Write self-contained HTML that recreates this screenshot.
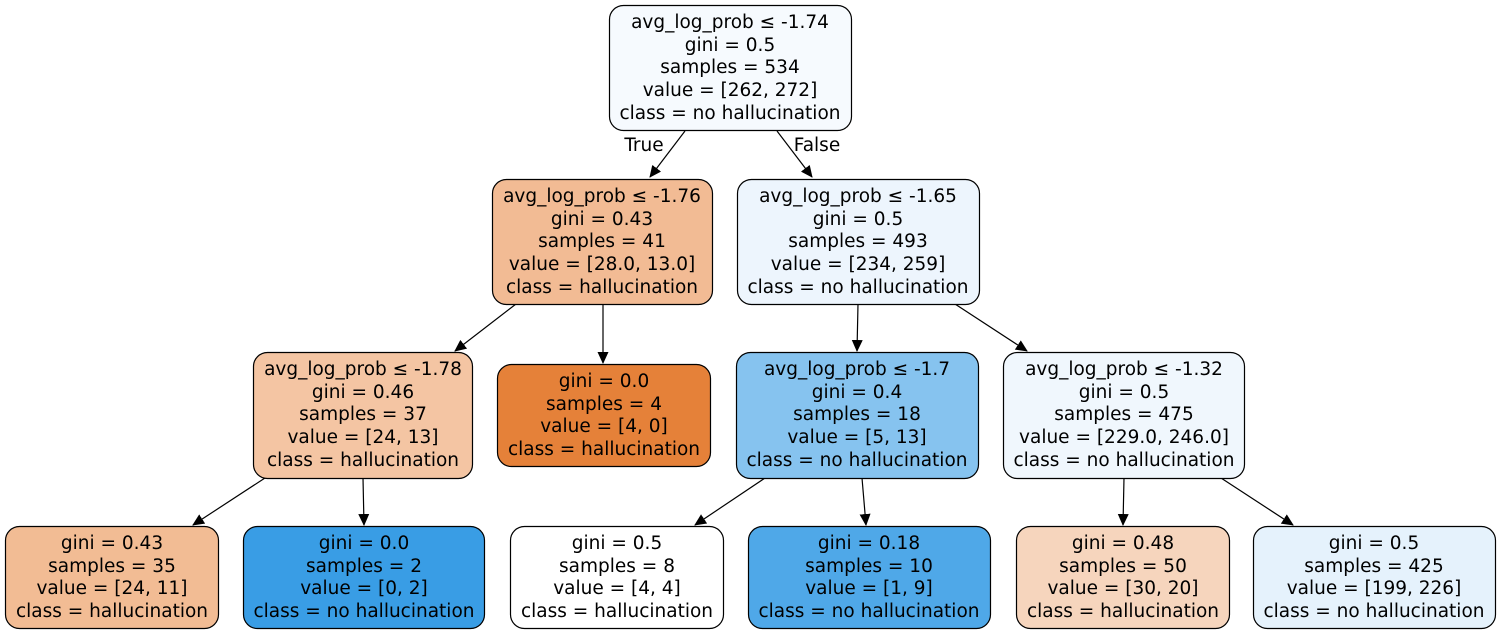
<!DOCTYPE html>
<html><head><meta charset="utf-8"><style>
html,body{margin:0;padding:0;background:#fff;}
svg text{font-family:"DejaVu Sans","Liberation Sans",sans-serif;font-size:18.5px;fill:#000;text-anchor:middle;}
</style></head><body>
<svg width="1501" height="634" viewBox="0 0 1501 634" xmlns="http://www.w3.org/2000/svg">
<defs><marker id="a" markerWidth="12" markerHeight="12" refX="11" refY="5.5" orient="auto" markerUnits="userSpaceOnUse"><path d="M0,0 L12,5.5 L0,11 z" fill="#000"/></marker></defs>
<g stroke="#000" stroke-width="1.2" fill="none">
<line x1="685" y1="131" x2="650" y2="177" marker-end="url(#a)"/>
<line x1="777" y1="131" x2="812" y2="177" marker-end="url(#a)"/>
<line x1="516" y1="304" x2="455" y2="351" marker-end="url(#a)"/>
<line x1="603" y1="304" x2="603" y2="363" marker-end="url(#a)"/>
<line x1="858" y1="304" x2="857" y2="351" marker-end="url(#a)"/>
<line x1="955" y1="304" x2="1027" y2="351" marker-end="url(#a)"/>
<line x1="265" y1="478" x2="193" y2="525" marker-end="url(#a)"/>
<line x1="363" y1="478" x2="364" y2="525" marker-end="url(#a)"/>
<line x1="765" y1="478" x2="695" y2="525" marker-end="url(#a)"/>
<line x1="862" y1="478" x2="866" y2="525" marker-end="url(#a)"/>
<line x1="1124" y1="478" x2="1123" y2="525" marker-end="url(#a)"/>
<line x1="1221" y1="478" x2="1293" y2="525" marker-end="url(#a)"/>
</g>
<text x="644" y="151">True</text>
<text x="817" y="151">False</text>
<g stroke="#000" stroke-width="1.2">
<rect x="609.5" y="5.5" width="242" height="125" rx="14" fill="#f6fafe"/>
<rect x="492.5" y="179.5" width="220" height="125" rx="14" fill="#f2bb94"/>
<rect x="737.5" y="179.5" width="242" height="125" rx="14" fill="#edf5fd"/>
<rect x="253.5" y="352.5" width="219" height="126" rx="14" fill="#f4c5a3"/>
<rect x="497.5" y="364.5" width="213" height="102" rx="14" fill="#e58139"/>
<rect x="736.5" y="352.5" width="242" height="126" rx="14" fill="#86c3ef"/>
<rect x="1003.5" y="352.5" width="241" height="126" rx="14" fill="#f0f7fd"/>
<rect x="5.5" y="526.5" width="213" height="102" rx="14" fill="#f2bc94"/>
<rect x="243.5" y="526.5" width="241" height="102" rx="14" fill="#399de5"/>
<rect x="510.5" y="526.5" width="213" height="102" rx="14" fill="#ffffff"/>
<rect x="748.5" y="526.5" width="242" height="102" rx="14" fill="#4fa8e8"/>
<rect x="1016.5" y="526.5" width="213" height="102" rx="14" fill="#f6d5bd"/>
<rect x="1253.5" y="526.5" width="242" height="102" rx="14" fill="#e5f2fc"/>
</g>
<text x="730" y="28">avg_log_prob ≤ -1.74</text><text x="730" y="51">gini = 0.5</text><text x="730" y="73">samples = 534</text><text x="730" y="96">value = [262, 272]</text><text x="730" y="119">class = no hallucination</text>
<text x="602" y="202">avg_log_prob ≤ -1.76</text><text x="602" y="225">gini = 0.43</text><text x="602" y="247">samples = 41</text><text x="602" y="270">value = [28.0, 13.0]</text><text x="602" y="293">class = hallucination</text>
<text x="858" y="202">avg_log_prob ≤ -1.65</text><text x="858" y="225">gini = 0.5</text><text x="858" y="247">samples = 493</text><text x="858" y="270">value = [234, 259]</text><text x="858" y="293">class = no hallucination</text>
<text x="363" y="375">avg_log_prob ≤ -1.78</text><text x="363" y="398">gini = 0.46</text><text x="363" y="420">samples = 37</text><text x="363" y="443">value = [24, 13]</text><text x="363" y="466">class = hallucination</text>
<text x="604" y="387">gini = 0.0</text><text x="604" y="410">samples = 4</text><text x="604" y="432">value = [4, 0]</text><text x="604" y="455">class = hallucination</text>
<text x="857" y="375">avg_log_prob ≤ -1.7</text><text x="857" y="398">gini = 0.4</text><text x="857" y="420">samples = 18</text><text x="857" y="443">value = [5, 13]</text><text x="857" y="466">class = no hallucination</text>
<text x="1124" y="375">avg_log_prob ≤ -1.32</text><text x="1124" y="398">gini = 0.5</text><text x="1124" y="420">samples = 475</text><text x="1124" y="443">value = [229.0, 246.0]</text><text x="1124" y="466">class = no hallucination</text>
<text x="112" y="549">gini = 0.43</text><text x="112" y="572">samples = 35</text><text x="112" y="594">value = [24, 11]</text><text x="112" y="617">class = hallucination</text>
<text x="364" y="549">gini = 0.0</text><text x="364" y="572">samples = 2</text><text x="364" y="594">value = [0, 2]</text><text x="364" y="617">class = no hallucination</text>
<text x="617" y="549">gini = 0.5</text><text x="617" y="572">samples = 8</text><text x="617" y="594">value = [4, 4]</text><text x="617" y="617">class = hallucination</text>
<text x="869" y="549">gini = 0.18</text><text x="869" y="572">samples = 10</text><text x="869" y="594">value = [1, 9]</text><text x="869" y="617">class = no hallucination</text>
<text x="1123" y="549">gini = 0.48</text><text x="1123" y="572">samples = 50</text><text x="1123" y="594">value = [30, 20]</text><text x="1123" y="617">class = hallucination</text>
<text x="1374" y="549">gini = 0.5</text><text x="1374" y="572">samples = 425</text><text x="1374" y="594">value = [199, 226]</text><text x="1374" y="617">class = no hallucination</text>
</svg>
</body></html>
